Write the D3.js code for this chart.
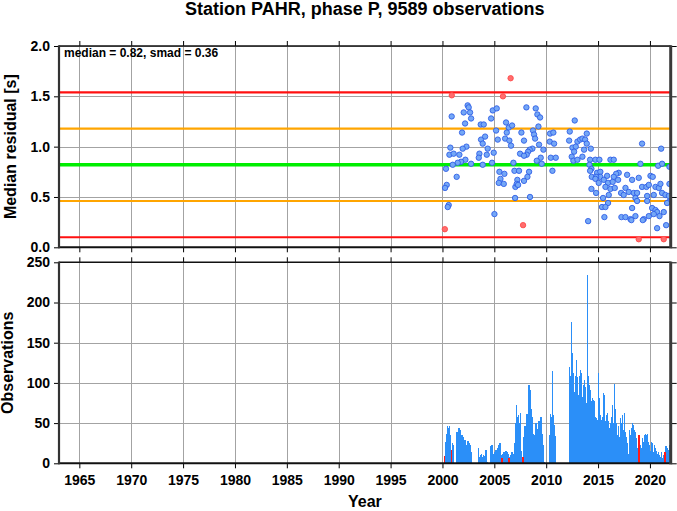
<!DOCTYPE html>
<html><head><meta charset="utf-8">
<script src="https://cdn.jsdelivr.net/npm/d3@7"></script>
<style>
html,body{margin:0;padding:0;background:#fff;}
svg{display:block;font-family:"Liberation Sans",Arial,Helvetica,sans-serif;font-weight:bold;}
</style></head><body>
<svg id="chart" width="677" height="511"></svg>
<script>
// ---------- data ----------
const titleText = "Station PAHR, phase P, 9589 observations";
const statsText = "median = 0.82, smad = 0.36";
const medianValue = 0.82;
const smadValue = 0.36;
const yearTicks = [1965,1970,1975,1980,1985,1990,1995,2000,2005,2010,2015,2020];
const residualTicks = [0.0,0.5,1.0,1.5,2.0];
const obsTicks = [0,50,100,150,200,250];

// median residual points (blue = inside band)
const pointYears = [2002.43,2002.53,2002.05,2002.66,2000.89,2002.76,2002.18,2003.69,2003.98,2004.69,2004.85,2005.23,2006.13,2006.39,2006.71,2006.20,2005.17,2001.89,2003.72,2004.11,2005.33,2006.04,2006.45,2006.61,2003.88,2000.76,2002.31,2001.95,2000.67,2001.08,2001.63,2003.56,2004.36,2004.27,2004.94,2003.50,2002.21,2001.79,2001.47,2000.99,2002.76,2003.88,2004.78,2006.84,2000.34,2005.49,2005.97,2006.94,2001.37,2005.59,2005.43,2005.91,2007.03,2000.41,2000.25,2007.00,2000.60,2000.51,2005.01,
2008.09,2008.99,2009.15,2009.41,2012.75,2009.25,2008.73,2007.61,2008.83,2008.93,2007.86,2010.37,2010.69,2012.27,2013.91,2009.31,2010.34,2010.76,2012.21,2013.01,2013.27,2013.49,2013.75,2013.91,2014.30,2012.53,2012.85,2012.69,2013.65,2008.67,2008.41,2008.25,2009.73,2007.48,2008.12,2007.86,2010.44,2010.92,2009.47,2009.09,2009.57,2012.46,2013.49,2012.62,2013.01,2014.23,2014.17,2014.36,2014.39,2014.23,2007.38,2008.35,2010.60,2008.19,2007.86,2007.22,2007.16,2007.29,2008.44,2014.36,2014.04,
2019.24,2021.08,2014.74,2015.13,2016.19,2016.51,2019.08,2020.79,2021.17,2021.88,2014.90,2015.22,2015.87,2016.99,2016.74,2016.51,2017.80,2015.22,2014.81,2015.55,2014.74,2015.06,2015.96,2016.41,2016.93,2018.28,2018.92,2020.05,2020.27,2019.24,2019.66,2019.89,2020.53,2020.85,2021.01,2021.88,2015.71,2016.19,2016.61,2017.64,2017.22,2017.47,2017.96,2018.44,2018.76,2018.60,2014.81,2016.03,2019.73,2020.37,2021.17,2021.49,2021.82,2015.48,2015.96,2018.76,2019.73,2021.82,2021.65,2015.38,2015.71,2018.28,2015.61,2017.25,2017.64,2018.12,2018.21,2018.60,2019.40,2019.89,2020.21,2020.53,2020.69,2020.92,2021.33,2020.37,2020.69,2021.56,2019.31];
const pointValues = [1.41,1.39,1.34,1.34,1.30,1.28,1.23,1.22,1.22,1.28,1.36,1.38,1.24,1.19,1.21,1.14,1.16,1.14,1.07,1.10,1.07,1.08,1.06,1.01,1.03,0.99,1.00,0.98,0.92,0.93,0.92,0.93,0.98,0.92,0.94,0.89,0.87,0.85,0.84,0.82,0.83,0.82,0.84,0.84,0.78,0.75,0.73,0.76,0.70,0.68,0.64,0.63,0.60,0.62,0.59,0.49,0.42,0.40,0.33,
1.39,1.38,1.32,1.29,1.26,1.20,1.16,1.14,1.12,1.08,1.06,1.13,1.14,1.15,1.13,1.02,1.05,1.03,1.06,1.05,1.07,1.08,1.07,1.03,0.98,0.99,1.00,0.95,0.97,0.98,0.97,0.95,0.97,0.93,0.92,0.91,0.89,0.89,0.89,0.86,0.83,0.90,0.90,0.86,0.87,0.87,0.82,0.78,0.70,0.76,0.76,0.75,0.76,0.70,0.66,0.67,0.63,0.62,0.50,0.58,0.26,
1.03,0.98,0.87,0.87,0.87,0.87,0.83,0.81,0.83,0.80,0.74,0.75,0.71,0.74,0.73,0.70,0.72,0.70,0.70,0.67,0.68,0.64,0.64,0.65,0.67,0.67,0.69,0.71,0.70,0.60,0.60,0.62,0.60,0.59,0.63,0.63,0.60,0.58,0.59,0.59,0.54,0.52,0.55,0.54,0.54,0.49,0.54,0.52,0.51,0.52,0.54,0.52,0.51,0.49,0.44,0.46,0.46,0.45,0.44,0.40,0.40,0.39,0.30,0.30,0.30,0.28,0.27,0.31,0.28,0.31,0.39,0.37,0.35,0.31,0.35,0.33,0.19,0.22,0.27];

// outlier points (red)
const outlierYears = [2006.57,2000.90,2005.83,2000.23,2007.77,2018.92,2021.33];
const outlierValues = [1.68,1.51,1.50,0.18,0.22,0.08,0.08];

// observations per bin
const binWidthYears = 0.1;
const barYears = [2000.12,2000.21,2000.31,2000.41,2000.50,2000.60,2000.69,2000.79,2000.89,2000.98,
2001.34,2001.43,2001.53,2001.63,2001.72,2001.82,2001.92,2002.01,2002.11,2002.20,2002.30,2002.40,2002.49,2002.59,2002.69,
2003.43,2003.52,2003.62,2003.71,2003.81,2003.91,2004.00,2004.10,2004.20,2004.29,
2004.61,2004.71,2004.81,2004.90,2005.00,2005.10,2005.19,2005.29,2005.39,2005.48,2005.58,2005.67,2005.77,2005.87,2005.96,2006.06,2006.16,2006.25,2006.35,2006.45,2006.54,2006.64,2006.73,2006.83,2006.93,2007.02,
2007.09,2007.19,2007.28,2007.38,2007.48,2007.57,2007.67,2007.80,2007.89,2007.99,2008.09,2008.18,2008.28,2008.38,2008.47,2008.57,2008.66,2008.76,2008.86,2008.95,2009.05,2009.15,2009.24,2009.34,2009.44,2009.53,2009.63,2009.72,
2010.24,2010.33,2010.43,2010.53,2010.62,2010.72,2010.82,
2012.17,2012.26,2012.36,2012.46,2012.55,2012.65,2012.74,2012.84,2012.94,2013.03,2013.13,2013.23,2013.32,2013.42,2013.52,2013.61,2013.71,2013.80,2013.90,2014.00,2014.09,2014.19,2014.29,2014.38,2014.48,
2014.61,2014.71,2014.80,2014.90,2015.00,2015.09,2015.19,2015.28,2015.38,2015.48,2015.57,2015.67,2015.77,2015.86,2015.96,2016.06,2016.15,2016.25,2016.34,2016.44,2016.54,2016.63,2016.73,2016.83,2016.92,2017.02,2017.12,2017.21,2017.31,2017.41,2017.50,2017.60,2017.69,2017.79,2017.89,2017.98,2018.08,2018.18,2018.27,2018.37,2018.47,2018.56,2018.66,2018.75,2018.85,2018.95,2019.04,2019.14,2019.24,2019.33,2019.43,2019.53,2019.62,2019.72,2019.81,2019.91,2020.01,2020.10,2020.20,2020.30,2020.39,2020.49,2020.59,2020.68,2020.78,2020.88,2020.97,2021.07,2021.17,2021.26,2021.36,2021.45,2021.55,2021.65,2021.74,2021.84,2021.94];
const barCounts = [9.5,27,37,46,44,46,35,17,25,23,
39,35,44,41,25,35,33,23,29,17,23,28,25,23,14,
19,8,10,11,8,10,9,17,17,2,
21,23,12,8,14,17,12,19,23,25,10,6,12,14,12,15,14,11,7,8,10,14,4,11,25,50,
73,58,60,50,62,15,8,33,46,6,61,58,97,91,68,58,37,35,34,50,39,43,52,46,57,37,23,2,
35,61,58,115,60,48,34,
120,108,176,137,112,89,108,128,107,85,108,116,112,83,97,103,95,75,234,108,97,91,77,81,79,
77,58,56,54,112,81,60,54,58,87,85,52,60,62,52,44,50,58,73,50,99,68,50,35,46,33,56,50,60,41,62,39,33,25,12,41,35,44,50,48,41,39,31,19,35,25,23,19,31,27,35,37,35,37,27,23,15,27,25,14,23,19,15,12,14,10,8,14,6,10,14,21,22,19,17,23,12];
const outlierBarYears = [2000.12,2000.79,2005.67,2006.35,2007.67,2018.85,2021.36];

// ---------- layout ----------
const svg = d3.select("#chart");
const xLeft = 59, xRight = 670.7;
const x = d3.scaleLinear().domain([1963.04, 2022]).range([xLeft, xRight]);
const yTop = d3.scaleLinear().domain([0, 2]).range([247.3, 46]);
const yBot = d3.scaleLinear().domain([0, 250]).range([463.3, 262.3]);

svg.append("defs").selectAll("clipPath").data([["clipTop",yTop],["clipBot",yBot]]).join("clipPath")
  .attr("id", d => d[0]).append("rect")
  .attr("x", xLeft).attr("width", xRight - xLeft)
  .attr("y", d => d[1].range()[1]).attr("height", d => d[1].range()[0] - d[1].range()[1]);

function grid(yScale, yTicks) {
  const g = svg.append("g").attr("stroke-width", 1).attr("shape-rendering","crispEdges");
  const [y0, y1] = yScale.range();
  g.append("g").call(d3.axisBottom(x).tickValues(yearTicks).tickSize(y1 - y0).tickFormat(""))
    .attr("transform", `translate(0,${y0})`)
    .call(s => s.select(".domain").remove())
    .selectAll("line").attr("stroke", "#a3a3a3");
  g.append("g").call(d3.axisLeft(yScale).tickValues(yTicks).tickSize(-(xRight - xLeft)).tickFormat(""))
    .attr("transform", `translate(${xLeft},0)`)
    .call(s => s.select(".domain").remove())
    .selectAll("line").attr("stroke", "#a3a3a3");
}

function frame(yScale, yTicks, fmt, showX) {
  const [y0, y1] = yScale.range();
  const tickStyle = s => { s.select(".domain").remove(); s.selectAll("line").attr("stroke","#000"); s.selectAll("text").attr("font-size", 14).attr("font-weight","bold").attr("fill","#000").attr("font-family",'"Liberation Sans",Arial,sans-serif'); };
  svg.append("g").attr("transform", `translate(${xLeft},0)`)
    .call(d3.axisLeft(yScale).tickValues(yTicks).tickSize(5).tickPadding(4).tickFormat(fmt)).call(tickStyle);
  svg.append("g").attr("transform", `translate(${xRight},0)`)
    .call(d3.axisRight(yScale).tickValues(yTicks).tickSize(6).tickFormat("")).call(tickStyle);
  svg.append("g").attr("transform", `translate(0,${y1})`)
    .call(d3.axisTop(x).tickValues(yearTicks).tickSize(5).tickFormat("")).call(tickStyle);
  svg.append("g").attr("transform", `translate(0,${y0})`)
    .call(d3.axisBottom(x).tickValues(yearTicks).tickSize(5).tickPadding(7).tickFormat(showX ? d3.format("d") : "")).call(tickStyle);
  svg.append("line").attr("x1", xLeft).attr("x2", xRight).attr("y1", y1).attr("y2", y1).attr("stroke", "#111").attr("stroke-width", 1.5);
  svg.append("line").attr("x1", xLeft).attr("x2", xRight).attr("y1", y0).attr("y2", y0).attr("stroke", "#111").attr("stroke-width", 2);
  svg.append("line").attr("x1", xLeft).attr("x2", xLeft).attr("y1", y1 - 0.75).attr("y2", y0 + 1).attr("stroke", "#333").attr("stroke-width", 2.2);
  svg.append("line").attr("x1", xRight).attr("x2", xRight).attr("y1", y1 - 0.75).attr("y2", y0 + 1).attr("stroke", "#3a3a3a").attr("stroke-width", 3);
}

// ---------- top panel ----------
grid(yTop, residualTicks);
const refLines = [
  {v: medianValue + 2 * smadValue, c: "#ff1010", w: 2.2},
  {v: medianValue - 2 * smadValue, c: "#ff1010", w: 2.2},
  {v: medianValue + smadValue, c: "#ffa500", w: 2.2},
  {v: medianValue - smadValue, c: "#ffa500", w: 2.2},
  {v: medianValue, c: "#00ee00", w: 3.6}
];
const topG = svg.append("g").attr("clip-path", "url(#clipTop)");
topG.selectAll("line.ref").data(refLines).join("line").attr("class","ref")
  .attr("x1", xLeft).attr("x2", xRight)
  .attr("y1", d => yTop(d.v)).attr("y2", d => yTop(d.v))
  .attr("stroke", d => d.c).attr("stroke-width", d => d.w);

const pts = pointYears.map((t, i) => ({t, v: pointValues[i]}));
topG.selectAll("circle.pt").data(pts).join("circle").attr("class","pt")
  .attr("cx", d => x(d.t)).attr("cy", d => yTop(d.v)).attr("r", 2.7)
  .attr("fill", "#74a7f6").attr("stroke", "#2f5fe6").attr("stroke-width", 0.9);
const outs = outlierYears.map((t, i) => ({t, v: outlierValues[i]}));
topG.selectAll("circle.out").data(outs).join("circle").attr("class","out")
  .attr("cx", d => x(d.t)).attr("cy", d => yTop(d.v)).attr("r", 2.7)
  .attr("fill", "#ff6e6e").attr("stroke", "#ff4a4a").attr("stroke-width", 0.9);

frame(yTop, residualTicks, d3.format(".1f"), false);

svg.append("text").attr("x", 64).attr("y", 57).attr("font-size", 12).text(statsText);

// ---------- bottom panel ----------
grid(yBot, obsTicks);
const botG = svg.append("g").attr("clip-path", "url(#clipBot)");
const bars = barYears.map((t, i) => ({t, n: barCounts[i], red: outlierBarYears.includes(t)}));
bars.sort((a, b) => a.red - b.red);
botG.selectAll("rect.bar").data(bars).join("rect").attr("class","bar")
  .attr("shape-rendering", "crispEdges")
  .attr("x", d => x(d.t))
  .attr("width", d => d.red ? Math.max(1.6, x(d.t + binWidthYears) - x(d.t)) : x(d.t + binWidthYears) - x(d.t) + 0.2)
  .attr("y", d => yBot(d.n)).attr("height", d => yBot(0) - yBot(d.n))
  .attr("fill", d => d.red ? "#ff1a1a" : "#2b8ff8");
frame(yBot, obsTicks, d3.format("d"), true);

// ---------- titles ----------
svg.append("text").attr("x", (xLeft + xRight) / 2).attr("y", 15).attr("text-anchor", "middle")
  .attr("font-size", 18).text(titleText);
svg.append("text").attr("transform", `translate(16,${(yTop.range()[0] + yTop.range()[1]) / 2}) rotate(-90)`)
  .attr("text-anchor", "middle").attr("font-size", 16).text("Median residual [s]");
svg.append("text").attr("transform", `translate(13,${(yBot.range()[0] + yBot.range()[1]) / 2}) rotate(-90)`)
  .attr("text-anchor", "middle").attr("font-size", 16).text("Observations");
svg.append("text").attr("x", (xLeft + xRight) / 2).attr("y", 507).attr("text-anchor", "middle")
  .attr("font-size", 16).text("Year");
</script>
</body></html>
